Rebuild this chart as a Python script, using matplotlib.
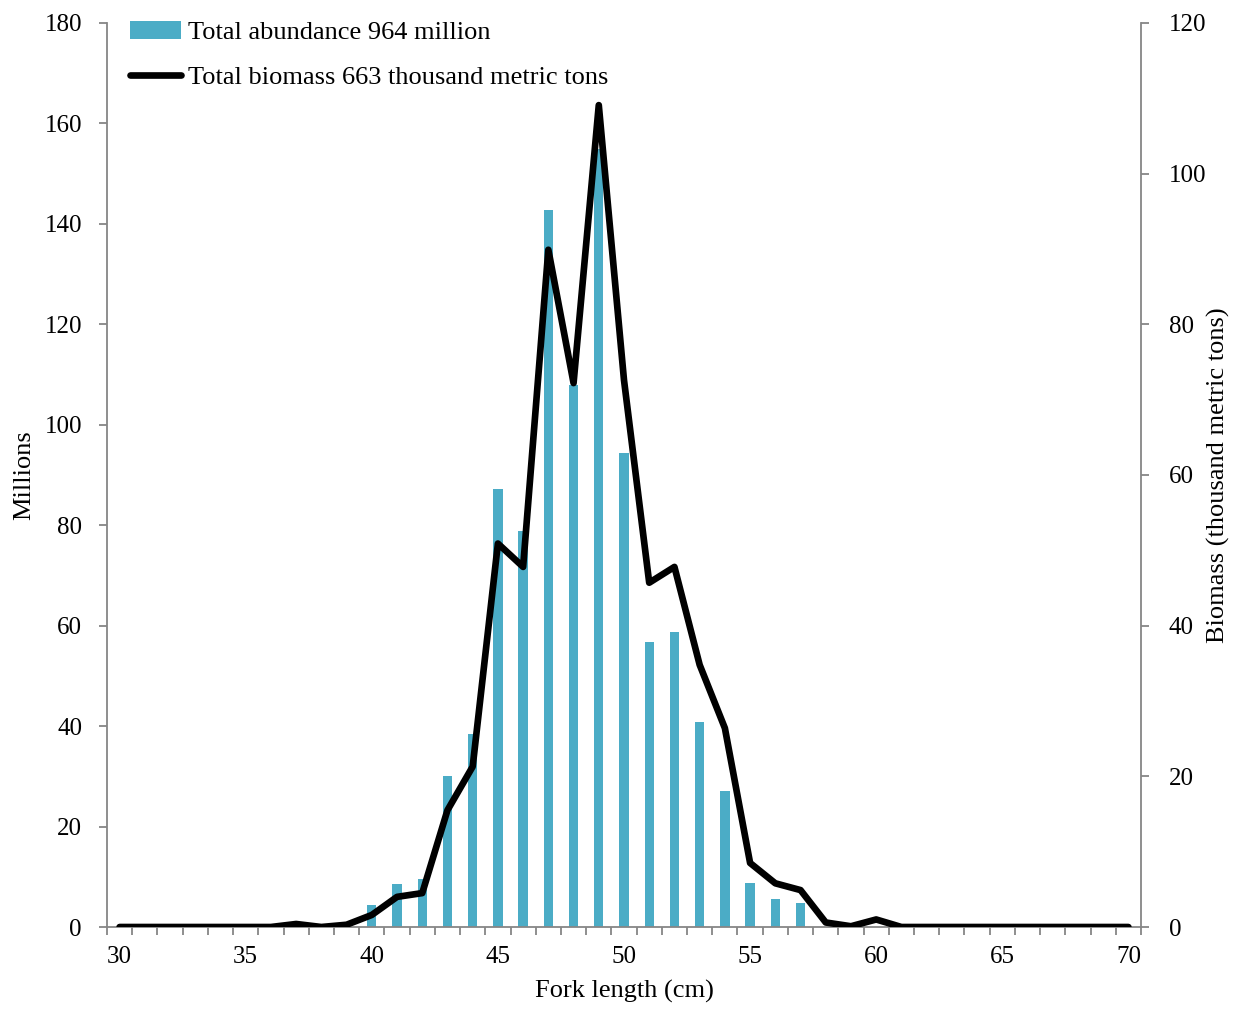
import numpy as np
import matplotlib
matplotlib.use("Agg")
import matplotlib.pyplot as plt
from matplotlib.patches import Patch
from matplotlib.lines import Line2D

plt.rcParams["font.family"] = ["Liberation Serif", "DejaVu Serif"]
plt.rcParams["font.size"] = 18

# fork length classes (cm)
lengths = np.arange(30, 71)

# abundance per length class (millions)
abundance = [0, 0, 0, 0, 0, 0, 0, 0, 0, 0,
             4.4, 8.5, 9.5, 30.0, 38.4, 87.3, 78.9, 142.8, 108.0, 155.0,
             94.3, 56.8, 58.8, 40.9, 27.1, 8.8, 5.5, 4.7, 0, 0,
             0, 0, 0, 0, 0, 0, 0, 0, 0, 0, 0]

# biomass per length class (thousand metric tons)
biomass = [0, 0, 0, 0, 0, 0, 0, 0.4, 0, 0.3,
           1.6, 4.0, 4.5, 15.5, 21.3, 50.9, 47.8, 89.9, 72.2, 109.1,
           72.6, 45.7, 47.8, 34.8, 26.4, 8.5, 5.8, 4.9, 0.6, 0.1,
           1.0, 0, 0, 0, 0, 0, 0, 0, 0, 0, 0]

label_abund = "Total abundance 964 million"
label_bio = "Total biomass 663 thousand metric tons"

BAR_COLOR = "#4BACC6"
SPINE = "#868686"
LW = 4.8

fig = plt.figure(figsize=(12.33, 10.09), dpi=100)
ax = fig.add_axes([107 / 1233, 1 - 927 / 1009, (1141 - 107) / 1233, (927 - 23) / 1009])
ax2 = ax.twinx()

ax.bar(lengths, abundance, width=0.37, color=BAR_COLOR, zorder=1)
ax2.plot(lengths, biomass, color="black", linewidth=LW,
         solid_joinstyle="round", solid_capstyle="round", zorder=3)

ax.set_xlim(29.5, 70.5)
ax.set_ylim(0, 180)
ax2.set_ylim(0, 120)
ax.set_yticks(np.arange(0, 181, 20))
ax2.set_yticks(np.arange(0, 121, 20))
ax.set_xticks(np.arange(30, 71, 5))
ax.set_xticks(np.arange(29.5, 71, 1), minor=True)
ax.tick_params(axis="x", which="major", length=0, pad=14)
ax.tick_params(axis="x", which="minor", length=6, width=1.3, color=SPINE)
ax.tick_params(axis="y", length=6, width=1.3, color=SPINE, pad=12)
ax2.tick_params(axis="y", length=6, width=1.3, color=SPINE, pad=14)

for a in (ax, ax2):
    a.spines["top"].set_visible(False)
    for s in ("left", "right", "bottom"):
        a.spines[s].set_color(SPINE)
        a.spines[s].set_linewidth(1.3)
ax.spines["right"].set_visible(False)
ax2.spines["left"].set_visible(False)
ax2.spines["bottom"].set_visible(False)

ax.set_ylabel("Millions", fontsize=19)
ax2.set_ylabel("Biomass (thousand metric tons)", fontsize=19)
ax.set_xlabel("Fork length (cm)", fontsize=19, labelpad=8)
ax.yaxis.set_label_coords(-0.0803, 0.5)
ax2.yaxis.set_label_coords(1.0745, 0.5)
ax.yaxis.label.set_verticalalignment("center")
ax2.yaxis.label.set_verticalalignment("center")

handles = [Patch(facecolor=BAR_COLOR, edgecolor="none"),
           Line2D([0], [0], color="black", linewidth=LW, solid_capstyle="round")]
ax2.legend(handles, [label_abund, label_bio], loc="upper left",
           bbox_to_anchor=(0.022, 1.0025), frameon=False, borderpad=0,
           borderaxespad=0, handlelength=1.95, handletextpad=0.25,
           labelspacing=0.8, fontsize=19)

fig.savefig("out.png", dpi=100)
